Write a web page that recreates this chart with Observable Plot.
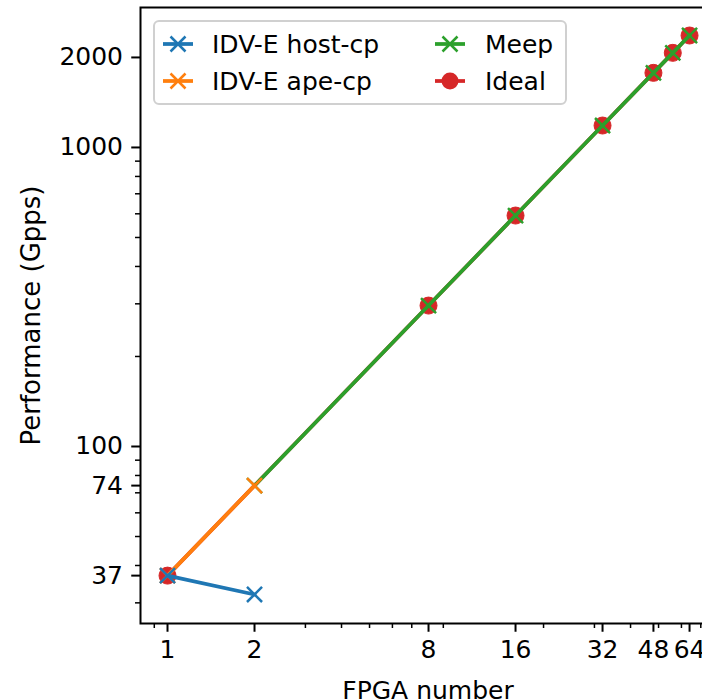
<!DOCTYPE html>
<html>
<head>
<meta charset="utf-8">
<script src="https://cdn.jsdelivr.net/npm/d3@7"></script>
<script src="https://cdn.jsdelivr.net/npm/@observablehq/plot@0.6"></script>
<style>
  html, body { margin: 0; padding: 0; background: white; }
</style>
</head>
<body>
<div id="chart"></div>
<script>
// ---- data ----
const seriesNames = ["IDV-E host-cp", "IDV-E ape-cp", "Meep", "Ideal"];
const seriesColors = ["#1f77b4", "#ff7f0e", "#2ca02c", "#d62728"];

const hostFpga = [1, 2];
const hostPerf = [37, 32];

const apeFpga = [1, 2];
const apePerf = [37, 74];

const meepFpga = [2, 8, 16, 32, 48, 56, 64];
const meepPerf = [74, 296, 592, 1184, 1776, 2072, 2368];

const idealFpga = [1, 8, 16, 32, 48, 56, 64];
const idealPerf = [37, 296, 592, 1184, 1776, 2072, 2368];

const xTicks = [1, 2, 8, 16, 32, 48, 64];
const xMinorTicks = [0.9, 3, 4, 5, 6, 7, 9, 20, 30, 40, 50, 60, 70];
const yTicks = [37, 74, 100, 1000, 2000];
const yMinorTicks = [30, 40, 50, 60, 70, 80, 90, 200, 300, 400, 500, 600, 700, 800, 900];

const xLabel = "FPGA number";
const yLabel = "Performance (Gpps)";

const toRows = (xs, ys) => xs.map((x, i) => ({x, y: ys[i]}));
const host = toRows(hostFpga, hostPerf);
const ape = toRows(apeFpga, apePerf);
const meep = toRows(meepFpga, meepPerf);
const ideal = toRows(idealFpga, idealPerf);

const LW = 3.75;
const XR = 6.9;
const XSW = 2.5;
const DOTR = 8.5;

const svg = Plot.plot({
  width: 702,
  height: 699,
  marginTop: 7,
  marginLeft: 140,
  marginBottom: 76,
  marginRight: -13,
  x: {type: "log", domain: [0.8064, 78.7]},
  y: {type: "log", domain: [25.59, 2938]},
  style: {fontFamily: "DejaVu Sans", fontSize: "25px", color: "black", background: "white", overflow: "hidden"},
  marks: [
    // ideal (underneath)
    Plot.line(ideal, {x: "x", y: "y", stroke: seriesColors[3], strokeWidth: LW}),
    Plot.dot(ideal, {x: "x", y: "y", r: DOTR, fill: seriesColors[3], stroke: seriesColors[3], strokeWidth: 1}),
    // meep
    Plot.line(meep, {x: "x", y: "y", stroke: seriesColors[2], strokeWidth: LW}),
    Plot.dot(meep, {x: "x", y: "y", symbol: "times", r: XR, stroke: seriesColors[2], strokeWidth: XSW}),
    // ape
    Plot.line(ape, {x: "x", y: "y", stroke: seriesColors[1], strokeWidth: LW}),
    Plot.dot(ape, {x: "x", y: "y", symbol: "times", r: XR, stroke: seriesColors[1], strokeWidth: XSW}),
    // host
    Plot.line(host, {x: "x", y: "y", stroke: seriesColors[0], strokeWidth: LW}),
    Plot.dot(host, {x: "x", y: "y", symbol: "times", r: XR, stroke: seriesColors[0], strokeWidth: XSW}),
    // axes: tick lines
    Plot.axisX(xMinorTicks, {tickSize: 5, strokeWidth: 1.5, tickFormat: () => "", label: null}),
    Plot.axisX(xTicks, {tickSize: 8.75, strokeWidth: 2, tickFormat: () => "", label: null}),
    Plot.axisY(yMinorTicks, {tickSize: 5, strokeWidth: 1.5, tickFormat: () => "", label: null}),
    Plot.axisY(yTicks, {tickSize: 8.75, strokeWidth: 2, tickFormat: () => "", label: null}),
    // tick labels
    Plot.text(xTicks, {x: d => d, text: d => String(d), frameAnchor: "bottom", dy: 17, lineAnchor: "top", fill: "black"}),
    Plot.text(yTicks, {y: d => d, text: d => String(d), frameAnchor: "left", dx: -17.5, textAnchor: "end", lineAnchor: "middle", fill: "black"}),
    Plot.frame({stroke: "black", strokeWidth: 2}),
    Plot.text([xLabel], {text: d => d, frameAnchor: "bottom", dy: 67, lineAnchor: "middle", fill: "black"}),
    Plot.text([yLabel], {text: d => d, frameAnchor: "left", dx: -109, rotate: -90, lineAnchor: "middle", textAnchor: "middle", fontSize: 26, fill: "black"})
  ]
});

// ---- legend (inside the axes, upper left) ----
const g = d3.select(svg).append("g")
  .attr("font-family", "DejaVu Sans").attr("font-size", 25).attr("text-anchor", "start");
g.append("rect")
  .attr("x", 154).attr("y", 21).attr("width", 412).attr("height", 83)
  .attr("rx", 5).attr("fill", "white").attr("fill-opacity", 0.8)
  .attr("stroke", "#d0d0d0").attr("stroke-width", 2);
const cols = [{hx: 163, tx: 212}, {hx: 435, tx: 485}];
const rowsY = [44, 81];
seriesNames.forEach((name, i) => {
  const c = cols[Math.floor(i / 2)];
  const y = rowsY[i % 2];
  const color = seriesColors[i];
  g.append("line").attr("x1", c.hx).attr("x2", c.hx + 30).attr("y1", y).attr("y2", y)
    .attr("stroke", color).attr("stroke-width", LW);
  const cx = c.hx + 15;
  if (name === "Ideal") {
    g.append("circle").attr("cx", cx).attr("cy", y).attr("r", DOTR).attr("fill", color);
  } else {
    const a = 7.5;
    g.append("path").attr("d", `M${cx - a},${y - a}L${cx + a},${y + a}M${cx - a},${y + a}L${cx + a},${y - a}`)
      .attr("stroke", color).attr("stroke-width", XSW).attr("fill", "none");
  }
  g.append("text").attr("x", c.tx).attr("y", y).attr("dy", "0.35em").attr("fill", "black")
    .attr("text-anchor", "start").text(name);
});

document.getElementById("chart").appendChild(svg);
</script>
</body>
</html>
